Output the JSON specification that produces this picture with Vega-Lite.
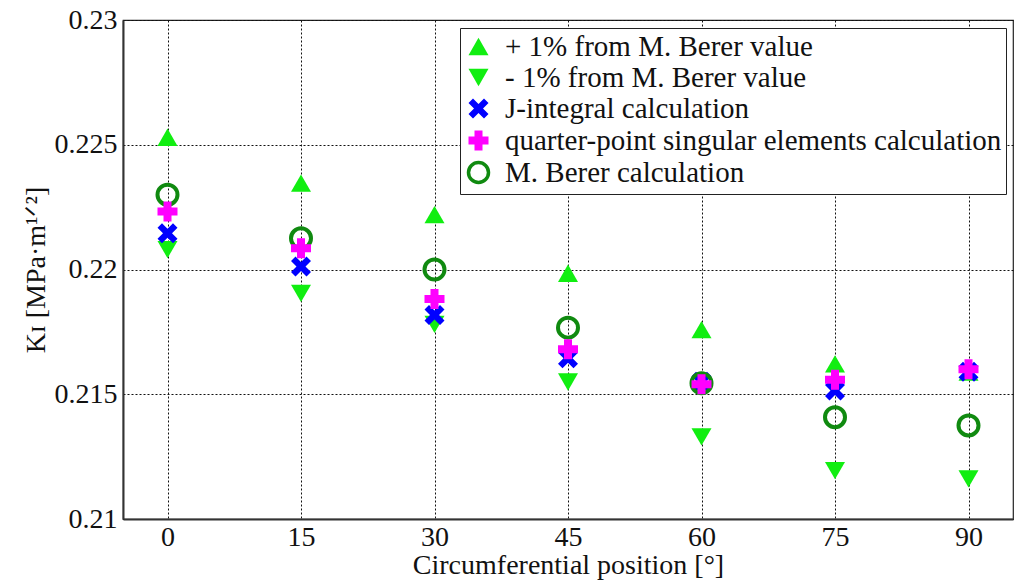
{
  "$schema": "https://vega.github.io/schema/vega-lite/v6.json",
  "width": 890,
  "height": 499,
  "autosize": {"type": "none"},
  "padding": {"left": 123, "top": 20, "right": 5, "bottom": 63},
  "background": "white",
  "config": {
    "view": {"stroke": "#222", "strokeWidth": 1.2},
    "font": "'Liberation Serif', 'Times New Roman', serif",
    "axis": {
      "labelFont": "'Liberation Serif', 'Times New Roman', serif",
      "labelFontSize": 28,
      "labelColor": "#111",
      "titleFont": "'Liberation Serif', 'Times New Roman', serif",
      "titleFontSize": 28,
      "titleFontWeight": "normal",
      "titleColor": "#111",
      "gridColor": "#111",
      "gridDash": [2, 2],
      "gridWidth": 1,
      "domainColor": "#333",
      "domainWidth": 2,
      "ticks": false
    }
  },
  "data": {
    "values": [
      {"pos": 0, "series": "+ 1% from M. Berer value", "K": 0.2253},
      {"pos": 15, "series": "+ 1% from M. Berer value", "K": 0.22346},
      {"pos": 30, "series": "+ 1% from M. Berer value", "K": 0.2222},
      {"pos": 45, "series": "+ 1% from M. Berer value", "K": 0.21985},
      {"pos": 60, "series": "+ 1% from M. Berer value", "K": 0.21759},
      {"pos": 75, "series": "+ 1% from M. Berer value", "K": 0.21622},
      {"pos": 90, "series": "+ 1% from M. Berer value", "K": 0.21589},
      {"pos": 0, "series": " - 1% from M. Berer value", "K": 0.2208},
      {"pos": 15, "series": " - 1% from M. Berer value", "K": 0.21904},
      {"pos": 30, "series": " - 1% from M. Berer value", "K": 0.2178},
      {"pos": 45, "series": " - 1% from M. Berer value", "K": 0.21549},
      {"pos": 60, "series": " - 1% from M. Berer value", "K": 0.21329},
      {"pos": 75, "series": " - 1% from M. Berer value", "K": 0.21194},
      {"pos": 90, "series": " - 1% from M. Berer value", "K": 0.21161},
      {"pos": 0, "series": "J-integral calculation", "K": 0.22145},
      {"pos": 15, "series": "J-integral calculation", "K": 0.22012},
      {"pos": 30, "series": "J-integral calculation", "K": 0.21818},
      {"pos": 45, "series": "J-integral calculation", "K": 0.21644},
      {"pos": 60, "series": "J-integral calculation", "K": 0.2155},
      {"pos": 75, "series": "J-integral calculation", "K": 0.21515},
      {"pos": 90, "series": "J-integral calculation", "K": 0.2159},
      {"pos": 0, "series": "quarter-point singular elements calculation", "K": 0.22232},
      {"pos": 15, "series": "quarter-point singular elements calculation", "K": 0.22085},
      {"pos": 30, "series": "quarter-point singular elements calculation", "K": 0.21882},
      {"pos": 45, "series": "quarter-point singular elements calculation", "K": 0.2168},
      {"pos": 60, "series": "quarter-point singular elements calculation", "K": 0.2154},
      {"pos": 75, "series": "quarter-point singular elements calculation", "K": 0.21558},
      {"pos": 90, "series": "quarter-point singular elements calculation", "K": 0.216},
      {"pos": 0, "series": "M. Berer calculation", "K": 0.223},
      {"pos": 15, "series": "M. Berer calculation", "K": 0.22125},
      {"pos": 30, "series": "M. Berer calculation", "K": 0.22},
      {"pos": 45, "series": "M. Berer calculation", "K": 0.21767},
      {"pos": 60, "series": "M. Berer calculation", "K": 0.21544},
      {"pos": 75, "series": "M. Berer calculation", "K": 0.21408},
      {"pos": 90, "series": "M. Berer calculation", "K": 0.21375}
    ]
  },
  "mark": {"type": "point", "filled": true, "opacity": 1, "strokeWidth": 4},
  "encoding": {
    "x": {
      "field": "pos",
      "type": "quantitative",
      "scale": {"domain": [-5, 95], "nice": false, "zero": false},
      "axis": {"values": [0, 15, 30, 45, 60, 75, 90], "title": "Circumferential position [°]", "labelPadding": 4, "titlePadding": 0}
    },
    "y": {
      "field": "K",
      "type": "quantitative",
      "scale": {"domain": [0.21, 0.23], "nice": false, "zero": false},
      "axis": {"values": [0.21, 0.215, 0.22, 0.225, 0.23], "format": ".3~f", "title": "Kɪ   [MPa·m¹ᐟ²]", "labelPadding": 6, "titlePadding": 4}
    },
    "fill": {
      "field": "series",
      "type": "nominal",
      "scale": {
        "domain": ["+ 1% from M. Berer value", " - 1% from M. Berer value", "J-integral calculation", "quarter-point singular elements calculation", "M. Berer calculation"],
        "range": ["#11ee11", "#11ee11", "#0000ff", "#ff00ff", "transparent"]
      },
      "legend": {
        "orient": "none",
        "legendX": 337,
        "legendY": 8,
        "title": null,
        "fillColor": "white",
        "strokeColor": "#222",
        "padding": 4,
        "labelFont": "'Liberation Serif', 'Times New Roman', serif",
        "labelFontSize": 29,
        "labelColor": "#111",
        "labelLimit": 700,
        "rowPadding": -3,
        "symbolStrokeWidth": 3.5,
        "labelOffset": 12
      }
    },
    "stroke": {
      "field": "series",
      "type": "nominal",
      "scale": {
        "domain": ["+ 1% from M. Berer value", " - 1% from M. Berer value", "J-integral calculation", "quarter-point singular elements calculation", "M. Berer calculation"],
        "range": ["transparent", "transparent", "transparent", "transparent", "#108a10"]
      }
    },
    "shape": {
      "field": "series",
      "type": "nominal",
      "scale": {
        "domain": ["+ 1% from M. Berer value", " - 1% from M. Berer value", "J-integral calculation", "quarter-point singular elements calculation", "M. Berer calculation"],
        "range": ["triangle-up", "triangle-down", "M-1,-0.55L-0.55,-1L0,-0.45L0.55,-1L1,-0.55L0.45,0L1,0.55L0.55,1L0,0.45L-0.55,1L-1,0.55L-0.45,0Z", "cross", "circle"]
      }
    },
    "size": {
      "field": "series",
      "type": "nominal",
      "scale": {
        "domain": ["+ 1% from M. Berer value", " - 1% from M. Berer value", "J-integral calculation", "quarter-point singular elements calculation", "M. Berer calculation"],
        "range": [400, 400, 150, 230, 290]
      }
    },
    "order": {"field": "series", "sort": "ascending"}
  }
}
